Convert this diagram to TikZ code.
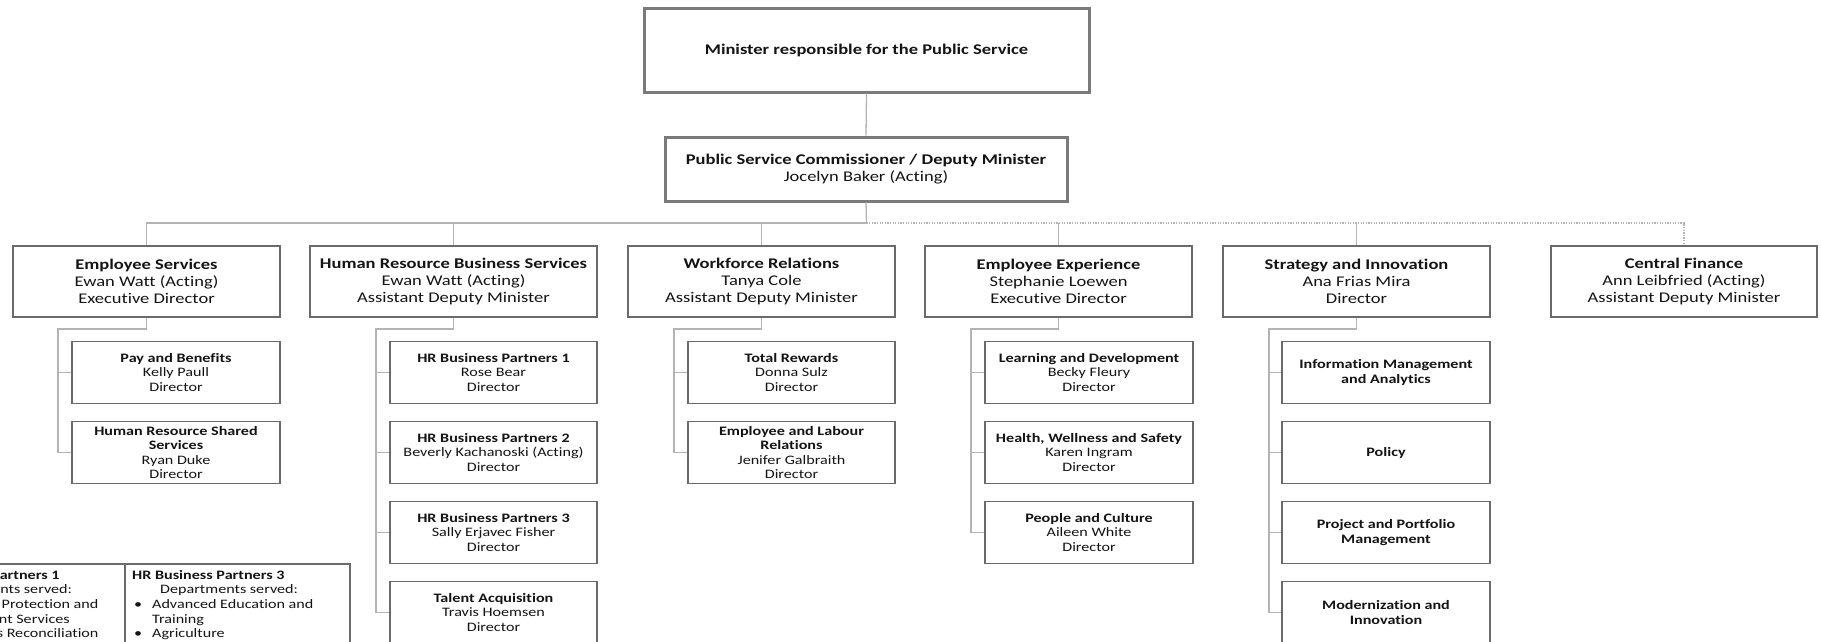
\documentclass[tikz,border=0pt]{standalone}
\usepackage{fontspec}
\setmainfont{Carlito}[FakeStretch=1.25,Ligatures=NoCommon]
\definecolor{topgray}{HTML}{7A7A7A}
\definecolor{boxgray}{HTML}{6A6A6A}
\definecolor{linegray}{HTML}{B4B4B4}
\definecolor{txt}{HTML}{141414}
\newcommand\bigf{\fontsize{14.8}{17}\selectfont}
\newcommand\smf{\fontsize{12.9}{14.6}\selectfont}
\begin{document}
\begin{tikzpicture}[x=1pt,y=-1pt,
  topbox/.style={draw=topgray, line width=3pt, fill=white, align=center, font=\bigf, text=txt, inner sep=0pt},
  deptbox/.style={draw=boxgray, line width=1.6pt, fill=white, align=center, font=\bigf, text=txt, minimum height=71pt, inner sep=0pt},
  unitbox/.style={draw=boxgray, line width=1.6pt, fill=white, align=center, font=\smf, text=txt, minimum width=208pt, minimum height=62pt, inner sep=0pt},
  legbox/.style={draw=boxgray, line width=1.6pt, minimum width=225pt, minimum height=150pt, inner sep=0pt},
  legtext/.style={anchor=north west, align=left, font=\smf, text=txt, inner sep=0pt},
  conn/.style={draw=linegray, line width=1.3pt},
  dotconn/.style={conn, dash pattern=on 1.3pt off 1.3pt},
]
\useasboundingbox (0,0) rectangle (1821,642);

% top
\node[topbox, minimum width=445pt, minimum height=83pt] (min) at (866.5,50.5) {\textbf{Minister responsible for the Public Service}};
\node[topbox, minimum width=402pt, minimum height=64pt] (com) at (866,169) {\textbf{Public Service Commissioner / Deputy Minister}\\Jocelyn Baker (Acting)};

% departments
\node[deptbox, minimum width=267pt] (es) at (146.5,281.5) {\textbf{Employee Services}\\Ewan Watt (Acting)\\Executive Director};
\node[deptbox, minimum width=287pt] (hrbs) at (453.5,281.5) {\textbf{Human Resource Business Services}\\Ewan Watt (Acting)\\Assistant Deputy Minister};
\node[deptbox, minimum width=267pt] (wr) at (761.5,281.5) {\textbf{Workforce Relations}\\Tanya Cole\\Assistant Deputy Minister};
\node[deptbox, minimum width=267pt] (ee) at (1058.5,281.5) {\textbf{Employee Experience}\\Stephanie Loewen\\Executive Director};
\node[deptbox, minimum width=267pt] (si) at (1356.5,281.5) {\textbf{Strategy and Innovation}\\Ana Frias Mira\\Director};
\node[deptbox, minimum width=266pt] (cf) at (1684,281.5) {\textbf{Central Finance}\\Ann Leibfried (Acting)\\Assistant Deputy Minister};

% units: Employee Services
\node[unitbox] (pay) at (176,372.5) {\textbf{Pay and Benefits}\\Kelly Paull\\Director};
\node[unitbox] (hrss) at (176,452.5) {\textbf{Human Resource Shared}\\\textbf{Services}\\Ryan Duke\\Director};
% units: HRBS
\node[unitbox, minimum width=207pt] (bp1) at (493.5,372.5) {\textbf{HR Business Partners 1}\\Rose Bear\\Director};
\node[unitbox, minimum width=207pt] (bp2) at (493.5,452.5) {\textbf{HR Business Partners 2}\\Beverly Kachanoski (Acting)\\Director};
\node[unitbox, minimum width=207pt] (bp3) at (493.5,532.5) {\textbf{HR Business Partners 3}\\Sally Erjavec Fisher\\Director};
\node[unitbox, minimum width=207pt] (ta) at (493.5,612.5) {\textbf{Talent Acquisition}\\Travis Hoemsen\\Director};
% units: WR
\node[unitbox, minimum width=207pt] (tr) at (791.5,372.5) {\textbf{Total Rewards}\\Donna Sulz\\Director};
\node[unitbox, minimum width=207pt] (elr) at (791.5,452.5) {\textbf{Employee and Labour}\\\textbf{Relations}\\Jenifer Galbraith\\Director};
% units: EE
\node[unitbox] (ld) at (1089,372.5) {\textbf{Learning and Development}\\Becky Fleury\\Director};
\node[unitbox] (hws) at (1089,452.5) {\textbf{Health, Wellness and Safety}\\Karen Ingram\\Director};
\node[unitbox] (pc) at (1089,532.5) {\textbf{People and Culture}\\Aileen White\\Director};
% units: SI
\node[unitbox] (ima) at (1386,372.5) {\textbf{Information Management}\\\textbf{and Analytics}};
\node[unitbox] (pol) at (1386,452.5) {\textbf{Policy}};
\node[unitbox] (ppm) at (1386,532.5) {\textbf{Project and Portfolio}\\\textbf{Management}};
\node[unitbox] (mi) at (1386,612.5) {\textbf{Modernization and}\\\textbf{Innovation}};

% connectors top
\coordinate (bus) at (866.5,223);
\draw[conn] (min.south) -- (com.north);
\draw[conn] (com.south) -- (bus);
\draw[conn] (es.north) |- (bus);
\draw[conn] (hrbs.north) -- (hrbs.north |- bus);
\draw[conn] (wr.north) -- (wr.north |- bus);
\draw[conn] (ee.north) -- (ee.north |- bus);
\draw[conn] (si.north) -- (si.north |- bus);
\draw[dotconn] (bus) -| (cf.north);

% connectors to units
\coordinate (esk) at (58,329);
\draw[conn] (es.south) |- (esk) |- (hrss.west);
\draw[conn] (esk) |- (pay.west);
\coordinate (hrk) at (376,329);
\draw[conn] (hrbs.south) |- (hrk) |- (ta.west);
\draw[conn] (hrk) |- (bp1.west);
\draw[conn] (hrk) |- (bp2.west);
\draw[conn] (hrk) |- (bp3.west);
\coordinate (wrk) at (674,329);
\draw[conn] (wr.south) |- (wrk) |- (elr.west);
\draw[conn] (wrk) |- (tr.west);
\coordinate (eek) at (971,329);
\draw[conn] (ee.south) |- (eek) |- (pc.west);
\draw[conn] (eek) |- (ld.west);
\draw[conn] (eek) |- (hws.west);
\coordinate (sik) at (1269,329);
\draw[conn] (si.south) |- (sik) |- (mi.west);
\draw[conn] (sik) |- (ima.west);
\draw[conn] (sik) |- (pol.west);
\draw[conn] (sik) |- (ppm.west);

% legend
\node[legbox] (lgl) at (12.5,639) {};
\node[legbox] (lgr) at (237.5,639) {};
\node[legtext] (lgltext) at (-93,570) {\textbf{HR Business Partners 1}\\\hspace*{27pt}Departments served:\\\makebox[24pt][l]{\textbullet}Consumer Protection and\\\hspace*{23pt}Government Services\\\makebox[24pt][l]{\textbullet}Indigenous Reconciliation\\\hspace*{23pt}and Northern Relations};
\node[legtext] (lgrtext) at (132,570) {\textbf{HR Business Partners 3}\\\hspace*{28pt}Departments served:\\\hspace*{2pt}\makebox[18pt][l]{\textbullet}Advanced Education and\\\hspace*{20pt}Training\\\hspace*{2pt}\makebox[18pt][l]{\textbullet}Agriculture};
\end{tikzpicture}
\end{document}
